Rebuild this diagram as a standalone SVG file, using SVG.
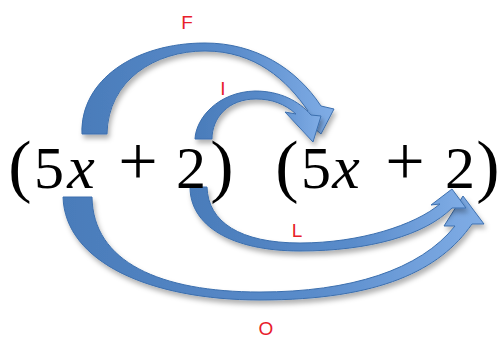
<svg xmlns="http://www.w3.org/2000/svg" width="499" height="340" viewBox="0 0 499 340">
<style>
.expr{font-family:"Liberation Serif","Times New Roman",serif;fill:#000;text-anchor:middle}
.p{font-size:70px}
.d{font-size:60px}
.v{font-size:62px;font-style:italic}
.op{font-size:70px}
.arrow{fill:url(#blue);stroke:#3c6fae;stroke-width:1;stroke-linejoin:round;filter:url(#shadow)}
.lbl{font-family:"Liberation Sans",Arial,sans-serif;font-size:19px;fill:#e8202a;text-anchor:middle}
</style>
<defs>
<linearGradient id="blue" x1="0" y1="0" x2="1" y2="0">
<stop offset="0" stop-color="#4a7cba"/>
<stop offset="0.6" stop-color="#5a8ccb"/>
<stop offset="1" stop-color="#80ade6"/>
</linearGradient>
<filter id="shadow" x="-10%" y="-10%" width="130%" height="140%">
<feDropShadow dx="2" dy="4" stdDeviation="2.5" flood-color="#000" flood-opacity="0.3"/>
</filter>
</defs>
<rect width="499" height="340" fill="#fff"/>
<g id="connectors">
<path id="arrow-F" class="arrow" d="M82,134 C80,80 135,43 205,43 C255,43 296,68 321,106 L334,109 L321,134 L299,115 L308,111 C287,80 255,51 205,51 C155,51 108,80 107,134 Z"/>
<path id="arrow-I" class="arrow" d="M195,139 C196,118 218,92 255,91 C280,91 299,101 311,115 L321,116 L313,142 L285,112 L296,114 C285,104 272,99 256,99 C228,99 212,118 212,139 Z"/>
<path id="arrow-O" class="arrow" d="M63,197 C65,262 150,300 260,300 C380,300 440,270 472,224 L484,224 L463,196 L444,226 L455,226 C420,270 350,292 260,292 C160,292 93,262 92,197 Z"/>
<path id="arrow-L" class="arrow" d="M190,187 C190,225 230,251 300,251 C370,251 425,235 452,208 L466,208 L452,189 L431,205 L440,204 C415,225 360,243 300,243 C240,243 208,222 207,187 Z"/>
<g id="labels">
<text class="lbl" x="187" y="29">F</text>
<text class="lbl" x="223" y="95">I</text>
<text class="lbl" x="297" y="237">L</text>
<text class="lbl" x="266" y="335">O</text>
</g>
</g>
<g id="expr-left">
<text class="expr"><tspan class="p" x="20" y="189">(</tspan><tspan class="d" x="49" y="188">5</tspan><tspan class="v" x="81" y="188">x</tspan><tspan class="op" x="138" y="185"> + </tspan><tspan class="d" x="191" y="188">2</tspan><tspan class="p" x="222" y="189">)</tspan></text>
</g>
<g id="expr-right">
<text class="expr"><tspan class="p" x="287" y="189">(</tspan><tspan class="d" x="316" y="188">5</tspan><tspan class="v" x="346" y="188">x</tspan><tspan class="op" x="405" y="185"> + </tspan><tspan class="d" x="460" y="188">2</tspan><tspan class="p" x="488" y="189">)</tspan></text>
</g>
</svg>
